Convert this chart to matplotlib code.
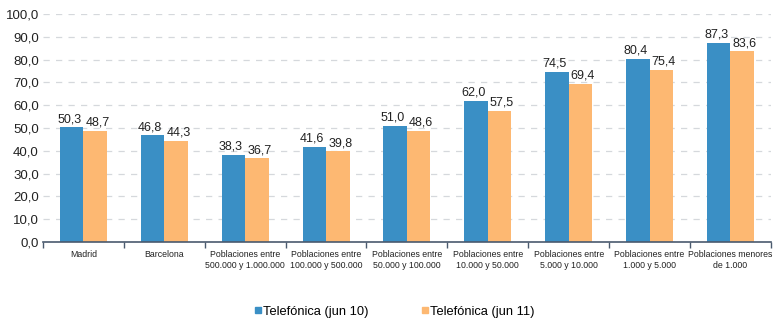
import numpy as np
import matplotlib
matplotlib.use('Agg')
import matplotlib.pyplot as plt
from matplotlib.lines import Line2D

plt.rcParams['font.family'] = ['Liberation Sans', 'DejaVu Sans']

# Datos
categorias = ['Madrid', 'Barcelona',
              'Poblaciones entre\n500.000 y 1.000.000',
              'Poblaciones entre\n100.000 y 500.000',
              'Poblaciones entre\n50.000 y 100.000',
              'Poblaciones entre\n10.000 y 50.000',
              'Poblaciones entre\n5.000 y 10.000',
              'Poblaciones entre\n1.000 y 5.000',
              'Poblaciones menores\nde 1.000']
jun10 = [50.3, 46.8, 38.3, 41.6, 51.0, 62.0, 74.5, 80.4, 87.3]
jun11 = [48.7, 44.3, 36.7, 39.8, 48.6, 57.5, 69.4, 75.4, 83.6]
series = ['Telefónica (jun 10)', 'Telefónica (jun 11)']
colores = ['#3A8FC5', '#FDB872']


def fmt(v):
    return f'{v:.1f}'.replace('.', ',')


fig = plt.figure(figsize=(7.76, 3.22), dpi=100)
ax = fig.add_axes([0.0554, 0.2484, 0.938, 0.708])

x = np.arange(len(categorias))
w = 0.29
b1 = ax.bar(x - w / 2, jun10, w, color=colores[0])
b2 = ax.bar(x + w / 2, jun11, w, color=colores[1])

# etiquetas de valor, un poco separadas hacia fuera para que no se pisen
for bars, vals, dx in ((b1, jun10, -0.03), (b2, jun11, 0.03)):
    for bar, v in zip(bars, vals):
        ax.text(bar.get_x() + bar.get_width() / 2 + dx, v + 1.0, fmt(v),
                ha='center', va='bottom', fontsize=9, color='#222222')

ax.set_xlim(-0.5, len(categorias) - 0.5)
ax.set_ylim(0, 100)
ax.set_yticks(np.arange(0, 101, 10))
ax.set_yticklabels([fmt(v) for v in np.arange(0, 101, 10)], fontsize=9.5, color='#222222')
ax.yaxis.grid(True, linestyle=(0, (5, 5)), color='#D5D8DC', linewidth=0.9)
ax.set_axisbelow(True)

ax.set_xticks(x)
ax.set_xticklabels(categorias, fontsize=6.3, color='#222222', linespacing=1.3)
ax.tick_params(axis='x', which='major', length=0, pad=6)
ax.set_xticks(np.arange(-0.5, len(categorias), 1), minor=True)
ax.tick_params(axis='x', which='minor', length=4, color='#4A5A6E', width=1)
ax.tick_params(axis='y', length=0, pad=3)

for s in ['top', 'right', 'left']:
    ax.spines[s].set_visible(False)
ax.spines['bottom'].set_color('#4A5A6E')
ax.spines['bottom'].set_linewidth(1.2)

handles = [Line2D([], [], marker='s', linestyle='', markersize=5,
                  markerfacecolor=c, markeredgecolor=c) for c in colores]
fig.legend(handles, series, loc='center left', bbox_to_anchor=(0.326, 0.032), ncol=2,
           frameon=False, fontsize=9.3, handletextpad=0.0, columnspacing=3.95,
           handlelength=0.8, borderaxespad=0, borderpad=0)

fig.savefig('out.png', dpi=100)
plt.close(fig)
